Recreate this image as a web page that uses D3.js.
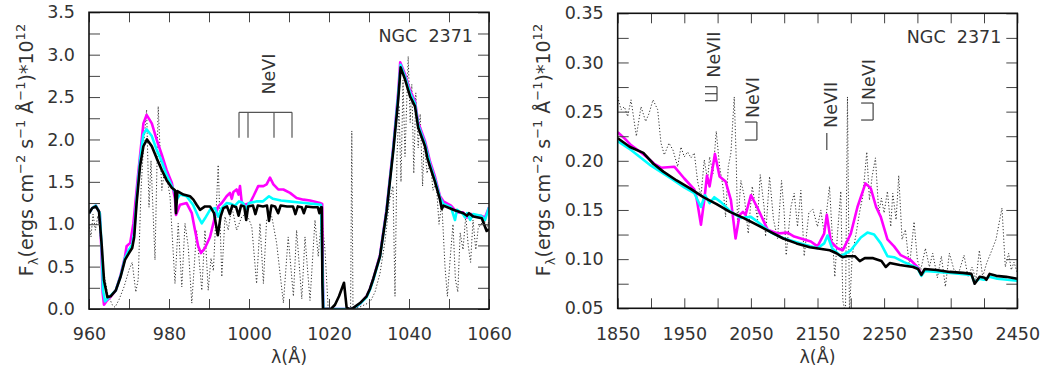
<!DOCTYPE html>
<html><head><meta charset="utf-8">
<script src="https://cdn.jsdelivr.net/npm/d3@7"></script>
<style>body{margin:0;background:#fff}svg{display:block}text{font-family:"DejaVu Sans",sans-serif}</style>
</head><body>
<svg id="chart" width="1045" height="379"></svg>
<script>
// ---------------- DATA: far-UV panel (Å, flux*1e12) ----------------
const fuvObserved = [[960,1.0],[960.5,0.85],[961,1.12],[961.6,0.93],[962.2,1.1],[962.6,1.0],[963.3,0.54],[964.6,0.19],[965.8,0.05],[966.5,0.02],[967.5,0.11],[968.75,0.26],[970,0.46],[970.8,0.55],[971.7,0.2],[972.3,0.35],[973,1.4],[973.6,1.9],[974.4,2.35],[975,1.2],[975.5,1.75],[976.5,0.58],[977.3,2.39],[978.2,1.4],[979,1.68],[980.25,1.33],[981.5,0.3],[982.3,1.01],[983.2,0.26],[984,1.01],[984.8,0.74],[985.7,0.07],[986.9,0.93],[988.2,0.22],[989,0.93],[989.8,0.22],[990.5,0.6],[991.1,0.45],[992.3,1.7],[993.2,0.38],[994,1.09],[994.8,0.93],[995.7,1.21],[996.9,0.93],[998.2,1.09],[999.4,1.13],[1000.7,0.97],[1001.9,0.3],[1002.75,1.01],[1003.6,0.3],[1004.4,1.05],[1005.7,1.09],[1006.9,0.78],[1008.6,0.07],[1009.8,0.85],[1011.1,0.15],[1011.9,0.93],[1013.2,0.12],[1014,0.85],[1015.25,0.1],[1016.5,1.05],[1017.3,0.62],[1018.2,1.09],[1019,0.7],[1019.8,0.0],[1025.4,0.0],[1025.7,2.1],[1026,0.0],[1028,0.03],[1030.25,0.08],[1031.5,0.2],[1032.75,0.42],[1034,0.8],[1035.2,1.3],[1036,1.45],[1036.5,0.15],[1037,1.8],[1037.5,2.4],[1038,1.5],[1038.5,2.7],[1039,1.8],[1039.8,2.98],[1040.3,2.2],[1040.7,2.65],[1041.2,1.6],[1041.7,2.55],[1042.3,1.9],[1042.8,2.3],[1043.4,1.45],[1043.8,2.0],[1044.5,1.6],[1045.3,1.75],[1046,1.4],[1046.8,1.5],[1047.5,1.0],[1048.2,1.25],[1049,0.5],[1049.6,0.15],[1050.3,0.6],[1051,1.0],[1051.6,0.35],[1052.2,0.2],[1052.8,0.9],[1053.5,0.7],[1054.2,1.1],[1054.8,0.75],[1055.4,0.55],[1056,1.05],[1056.7,0.7],[1057.3,0.95],[1058,1.0],[1058.8,1.05],[1059.5,0.95],[1060,1.05]];
const fuvModelMagenta = [[960,1.13],[960.8,1.19],[961.7,1.22],[962.7,1.13],[963.1,0.7],[963.4,0.2],[963.75,0.05],[964.5,0.1],[965.5,0.15],[966.7,0.22],[967.9,0.4],[969,0.62],[969.4,0.74],[970.3,0.78],[971.1,1.01],[972.3,1.6],[973.6,2.19],[974.4,2.29],[975.7,2.19],[976.9,2.0],[978.2,1.82],[979.4,1.64],[980.7,1.49],[981.5,1.3],[981.75,1.11],[982.75,1.23],[984.4,1.25],[985.7,1.13],[986.5,0.93],[987.3,0.74],[988,0.66],[989,0.72],[990.25,0.85],[991.5,1.09],[992.3,1.21],[993.2,1.25],[994.4,1.33],[995.25,1.37],[995.7,1.3],[996.1,1.38],[996.9,1.41],[997.4,1.35],[997.75,1.45],[998.2,1.25],[999,1.23],[1000.25,1.25],[1001.1,1.33],[1002.3,1.45],[1003.6,1.45],[1004.4,1.47],[1005.25,1.55],[1006.1,1.47],[1007.3,1.41],[1008.6,1.41],[1010.25,1.37],[1011.9,1.31],[1013.6,1.29],[1015.25,1.28],[1017.75,1.25],[1018.3,1.24],[1018.45,0.4],[1018.6,0.0],[1025.5,0.0],[1026,0.005],[1027.75,0.06],[1029.4,0.15],[1030.25,0.24],[1031.1,0.36],[1032.75,0.64],[1034.4,1.18],[1036.1,1.93],[1037.3,2.56],[1037.8,2.91],[1039,2.77],[1040.25,2.58],[1041.5,2.45],[1042.3,2.2],[1044,1.98],[1045.25,1.74],[1046.5,1.56],[1047.75,1.33],[1048.6,1.27],[1050.5,1.22],[1052,1.14],[1053.5,1.14],[1054.5,1.08],[1055.5,1.12],[1056.5,1.1],[1058,1.1],[1059,1.08],[1060,1.2]];
const fuvModelCyan = [[960,1.13],[960.8,1.19],[961.7,1.22],[962.7,1.13],[963.2,0.7],[963.5,0.22],[964,0.09],[965,0.14],[966.7,0.22],[967.9,0.39],[969,0.6],[970,0.7],[970.8,0.76],[971.3,0.9],[971.9,1.3],[972.75,1.75],[973.6,2.06],[974.4,2.12],[975.7,2.04],[976.9,1.88],[978.2,1.74],[979.4,1.58],[980.7,1.45],[981.5,1.38],[981.75,1.28],[982.75,1.35],[984.4,1.33],[986,1.23],[987.3,1.09],[988.2,1.01],[989,1.07],[990.25,1.17],[991.5,1.19],[992.3,1.09],[993.2,1.19],[994.4,1.25],[995.5,1.24],[996.5,1.22],[997.5,1.27],[998.5,1.25],[999.3,1.18],[1000,1.25],[1002,1.27],[1003.5,1.27],[1005,1.33],[1006,1.3],[1008,1.28],[1010,1.27],[1012,1.26],[1014,1.25],[1016,1.24],[1018,1.23],[1018.4,0.4],[1018.6,0.0],[1025.5,0.0],[1026,0.005],[1027.75,0.06],[1029.4,0.14],[1030.25,0.23],[1031.1,0.35],[1032.75,0.62],[1034.4,1.16],[1036.1,1.9],[1037.3,2.52],[1037.9,2.88],[1039,2.74],[1040.25,2.55],[1041.5,2.42],[1042.3,2.17],[1044,1.95],[1045.25,1.71],[1046.5,1.53],[1047.75,1.31],[1048.6,1.24],[1050.5,1.2],[1051.5,1.05],[1052,1.17],[1053.5,1.12],[1054,1.08],[1054.5,1.13],[1055.3,1.05],[1056,1.12],[1058,1.1],[1059,1.05],[1060,1.2]];
const fuvModelBlack = [[960,1.13],[960.8,1.19],[961.7,1.21],[962.5,1.15],[963.2,0.74],[963.75,0.34],[964.6,0.14],[965.4,0.15],[966.7,0.22],[967.9,0.38],[969,0.58],[970,0.66],[970.8,0.72],[971.3,0.85],[971.9,1.25],[972.75,1.68],[973.6,1.92],[974.5,2.0],[975.7,1.92],[976.9,1.78],[978.2,1.64],[979.4,1.52],[980.7,1.43],[981.5,1.4],[981.75,1.13],[982.1,1.39],[983.6,1.35],[985.25,1.33],[986.1,1.29],[986.9,1.23],[987.75,1.17],[989,1.21],[990.25,1.21],[991.25,1.13],[992.2,0.87],[992.9,1.09],[993.6,1.19],[994.5,1.21],[995.2,1.12],[995.8,1.22],[996.8,1.2],[997.4,1.1],[998,1.22],[998.8,1.21],[999.3,1.05],[999.8,1.21],[1001,1.22],[1001.6,1.12],[1002.2,1.22],[1003.5,1.21],[1004.5,1.22],[1005,1.04],[1005.6,1.22],[1006.5,1.21],[1007.3,1.13],[1007.9,1.22],[1009.5,1.21],[1011,1.21],[1011.6,1.12],[1012.2,1.21],[1013.2,1.2],[1013.7,1.13],[1014.3,1.21],[1016,1.2],[1017.2,1.2],[1017.6,1.13],[1018,1.2],[1018.2,1.2],[1018.35,0.3],[1018.5,0.0],[1020.5,0.0],[1021.5,0.05],[1022.5,0.15],[1023.75,0.31],[1024.4,0.02],[1025,0.0],[1026,0.01],[1027.75,0.07],[1029.4,0.15],[1030.25,0.24],[1031.1,0.36],[1032.75,0.62],[1034.4,1.15],[1036.1,1.88],[1037.3,2.47],[1037.9,2.85],[1039,2.71],[1040.25,2.51],[1041.5,2.39],[1042.3,2.14],[1044,1.92],[1044.6,1.78],[1045.25,1.68],[1046.5,1.5],[1047.75,1.29],[1048.2,1.18],[1048.6,1.22],[1051.1,1.17],[1053.6,1.13],[1054.5,1.1],[1055,1.13],[1056.1,1.09],[1058.2,1.07],[1059.4,0.92],[1060,0.94]];
const fuvXTickLabels = [960, 980, 1000, 1020, 1040, 1060];
const fuvYTickLabels = [0.0, 0.5, 1.0, 1.5, 2.0, 2.5, 3.0, 3.5];
const fuvLineIds = [{label: "NeVI", wave: 1006.5, flux: 2.53, marks: [997.5, 999.75, 1006.25, 1010.75], top: 2.32, bottom: 2.02}];

// ---------------- DATA: near-UV panel ----------------
const nuvObserved = [[1850,0.265],[1855,0.252],[1860,0.255],[1865,0.245],[1870,0.262],[1878,0.225],[1885,0.255],[1892,0.24],[1897,0.248],[1903,0.262],[1910,0.252],[1915,0.218],[1920,0.206],[1927,0.218],[1933,0.211],[1940,0.194],[1945,0.214],[1950,0.204],[1955,0.209],[1960,0.203],[1965,0.208],[1970,0.179],[1975,0.164],[1980,0.201],[1985,0.18],[1988,0.204],[1993,0.187],[1998,0.23],[2003,0.194],[2008,0.174],[2012,0.143],[2016,0.194],[2020,0.208],[2025,0.265],[2028,0.201],[2030,0.133],[2035,0.18],[2040,0.164],[2046,0.126],[2052,0.174],[2060,0.14],[2064,0.186],[2070,0.152],[2072,0.123],[2078,0.184],[2084,0.14],[2090,0.121],[2096,0.18],[2100,0.147],[2103,0.104],[2110,0.153],[2115,0.167],[2120,0.133],[2125,0.17],[2130,0.103],[2137,0.147],[2143,0.151],[2150,0.133],[2155,0.15],[2160,0.126],[2168,0.174],[2172,0.126],[2176,0.082],[2180,0.126],[2185,0.169],[2188,0.058],[2192,0.045],[2195,0.265],[2198,0.045],[2202,0.103],[2208,0.126],[2213,0.147],[2218,0.164],[2224,0.209],[2228,0.16],[2232,0.184],[2237,0.203],[2242,0.147],[2246,0.162],[2250,0.147],[2255,0.169],[2260,0.133],[2263,0.167],[2268,0.14],[2272,0.185],[2277,0.12],[2282,0.13],[2288,0.092],[2295,0.138],[2300,0.099],[2305,0.089],[2312,0.111],[2318,0.092],[2323,0.106],[2330,0.081],[2336,0.103],[2342,0.072],[2348,0.106],[2355,0.089],[2362,0.086],[2370,0.104],[2376,0.082],[2382,0.092],[2388,0.079],[2393,0.109],[2398,0.082],[2404,0.096],[2410,0.106],[2418,0.12],[2427,0.152],[2432,0.092],[2437,0.106],[2441,0.089],[2445,0.097],[2450,0.086]];
const nuvModelMagenta = [[1850,0.229],[1860,0.223],[1870,0.216],[1880,0.211],[1895,0.203],[1905,0.197],[1915,0.193],[1935,0.194],[1950,0.182],[1965,0.171],[1968,0.164],[1975,0.135],[1980,0.16],[1984,0.185],[1988,0.174],[1996,0.207],[2003,0.184],[2012,0.179],[2020,0.16],[2027,0.121],[2033,0.145],[2038,0.148],[2042,0.145],[2050,0.165],[2060,0.152],[2075,0.13],[2090,0.126],[2105,0.127],[2115,0.123],[2140,0.118],[2150,0.113],[2160,0.126],[2164,0.145],[2170,0.118],[2180,0.111],[2188,0.109],[2200,0.126],[2210,0.153],[2222,0.177],[2230,0.172],[2238,0.153],[2245,0.143],[2255,0.12],[2265,0.113],[2275,0.104],[2290,0.099],[2300,0.092],[2306,0.085]];
const nuvModelCyan = [[1850,0.22],[1870,0.211],[1900,0.195],[1930,0.182],[1950,0.173],[1965,0.167],[1975,0.153],[1981,0.165],[1988,0.157],[1995,0.163],[2005,0.158],[2020,0.148],[2035,0.142],[2050,0.143],[2060,0.138],[2080,0.127],[2100,0.121],[2125,0.116],[2150,0.111],[2160,0.116],[2165,0.124],[2172,0.111],[2185,0.103],[2200,0.109],[2215,0.122],[2225,0.127],[2235,0.125],[2245,0.116],[2255,0.103],[2265,0.102],[2280,0.097],[2300,0.091],[2306,0.083],[2311,0.088],[2350,0.086],[2381,0.084],[2386,0.076],[2393,0.08],[2400,0.079],[2408,0.082],[2420,0.08],[2450,0.078]];
const nuvModelBlack = [[1850,0.223],[1868.5,0.214],[1888.5,0.208],[1903.5,0.197],[1918.5,0.189],[1938.5,0.18],[1958.5,0.172],[1978.5,0.163],[1998.5,0.156],[2018.5,0.148],[2038.5,0.142],[2058.5,0.135],[2078.5,0.128],[2098.5,0.121],[2118.5,0.116],[2138.5,0.112],[2158.5,0.11],[2168.5,0.109],[2178.5,0.106],[2187.5,0.102],[2193.5,0.103],[2206,0.103],[2213.5,0.098],[2221,0.101],[2233.5,0.101],[2246,0.098],[2252.5,0.092],[2258.5,0.096],[2273.5,0.094],[2293.5,0.092],[2301,0.09],[2306,0.084],[2311,0.09],[2328.5,0.089],[2348.5,0.087],[2368.5,0.086],[2381,0.085],[2386,0.075],[2393.5,0.082],[2401,0.081],[2403.5,0.079],[2408.5,0.085],[2418.5,0.083],[2433.5,0.082],[2450,0.08]];
const nuvXTickLabels = [1850, 1950, 2050, 2150, 2250, 2350, 2450];
const nuvYTickLabels = [0.05, 0.10, 0.15, 0.20, 0.25, 0.30, 0.35];
const nuvLineIds = [
  {label: "NeVII", wave: 2003.6, flux: 0.2845, mark: "bracket3"},
  {label: "NeVI",  wave: 2062,   flux: 0.2435, mark: "bracket2"},
  {label: "NeVII", wave: 2179,   flux: 0.2334, mark: "dash"},
  {label: "NeVI",  wave: 2236.5, flux: 0.2618, mark: "bracket2b"}
];
const objectName = "NGC\u00a0\u00a02371";

// ---------------- DRAWING ----------------
const svg = d3.select("#chart");
const FS = 17.5;
const TXT = "#333";

function drawPanel(cfg) {
  const x = d3.scaleLinear().domain(cfg.xDomain).range([cfg.left, cfg.right]);
  const y = d3.scaleLinear().domain(cfg.yDomain).range([cfg.bottom, cfg.top]);
  const g = svg.append("g");
  const clipId = cfg.id + "-clip";
  svg.append("clipPath").attr("id", clipId).append("rect")
    .attr("x", cfg.left).attr("y", cfg.top)
    .attr("width", cfg.right - cfg.left).attr("height", cfg.bottom - cfg.top);

  const line = d3.line().x(d => x(d[0])).y(d => y(d[1]));
  const plot = g.append("g").attr("clip-path", `url(#${clipId})`);
  plot.append("path").datum(cfg.observed).attr("d", line)
    .attr("fill", "none").attr("stroke", "#333").attr("stroke-width", 1)
    .attr("stroke-dasharray", "1.2,2");
  [[cfg.magenta, "#ff00ff"], [cfg.cyan, "#00ffff"], [cfg.black, "#000"]].forEach(([data, col]) => {
    plot.append("path").datum(data).attr("d", line)
      .attr("fill", "none").attr("stroke", col).attr("stroke-width", 2.6)
      .attr("stroke-linejoin", "round");
  });

  const key = v => Math.round(v * 10000);
  const xLab = new Set(cfg.xLabels.map(key));
  const yLab = new Set(cfg.yLabels.map(key));
  const xT = d3.range(cfg.xDomain[0], cfg.xDomain[1] + cfg.xStep / 2, cfg.xStep);
  const yT = d3.range(cfg.yDomain[0], cfg.yDomain[1] + cfg.yStep / 2, cfg.yStep);
  const yFmt = d3.format(cfg.yFmt);

  const styleAxis = sel => {
    sel.select(".domain").remove();
    sel.selectAll(".tick line").attr("stroke", "#444").attr("stroke-width", 1);
    sel.selectAll(".tick text").attr("fill", TXT).attr("font-size", FS)
      .attr("font-family", '"DejaVu Sans", sans-serif');
    sel.attr("font-size", FS).attr("font-family", '"DejaVu Sans", sans-serif');
  };
  g.append("g").attr("transform", `translate(0,${cfg.bottom})`)
    .call(d3.axisBottom(x).tickValues(xT).tickSizeInner(-10).tickSizeOuter(0).tickPadding(19)
      .tickFormat(d => xLab.has(key(d)) ? String(Math.round(d)) : ""))
    .call(styleAxis);
  g.append("g").attr("transform", `translate(0,${cfg.top})`)
    .call(d3.axisTop(x).tickValues(xT).tickSizeInner(-10).tickSizeOuter(0).tickFormat(""))
    .call(styleAxis);
  g.append("g").attr("transform", `translate(${cfg.left},0)`)
    .call(d3.axisLeft(y).tickValues(yT).tickSizeInner(-11).tickSizeOuter(0).tickPadding(14)
      .tickFormat(d => yLab.has(key(d)) ? yFmt(d) : ""))
    .call(styleAxis);
  g.append("g").attr("transform", `translate(${cfg.right},0)`)
    .call(d3.axisRight(y).tickValues(yT).tickSizeInner(-11).tickSizeOuter(0).tickFormat(""))
    .call(styleAxis);

  g.append("rect").attr("x", cfg.left).attr("y", cfg.top)
    .attr("width", cfg.right - cfg.left).attr("height", cfg.bottom - cfg.top)
    .attr("fill", "none").attr("stroke", "#111").attr("stroke-width", 1.6);

  const cx = (cfg.left + cfg.right) / 2;
  g.append("text").attr("x", cx).attr("y", 363).attr("text-anchor", "middle")
    .attr("font-size", FS).attr("fill", TXT).text("λ(Å)");

  const yt = g.append("text")
    .attr("transform", `translate(${cfg.left - cfg.titleOffset},150) rotate(-90)`)
    .attr("text-anchor", "middle").attr("font-size", 19).attr("fill", TXT);
  const parts = [["F", 0, 19], ["λ", 5, 13], ["(ergs cm", -5, 19], ["−2", -8, 13], [" s", 8, 19],
    ["−1", -8, 13], [" Å", 8, 19], ["−1", -8, 13], [")*10", 8, 19], ["12", -8, 13]];
  parts.forEach(([t, dy, fs]) => yt.append("tspan").attr("dy", dy).attr("font-size", fs).text(t));

  g.append("text").attr("x", cfg.right - 16).attr("y", cfg.top + 29.5)
    .attr("text-anchor", "end").attr("font-size", FS).attr("fill", TXT).text(objectName);

  return {g, x, y};
}

// Left panel
const L = drawPanel({
  id: "fuv", left: 89, right: 489, top: 12.3, bottom: 309, titleOffset: 56,
  xDomain: [960, 1060], yDomain: [0, 3.5], xStep: 10, yStep: 0.25,
  xLabels: fuvXTickLabels, yLabels: fuvYTickLabels, yFmt: ".1f",
  observed: fuvObserved, magenta: fuvModelMagenta, cyan: fuvModelCyan, black: fuvModelBlack
});
fuvLineIds.forEach(a => {
  const gg = L.g.append("g").attr("stroke", "#555").attr("stroke-width", 1.2).attr("fill", "none");
  gg.append("line").attr("x1", L.x(d3.min(a.marks))).attr("x2", L.x(d3.max(a.marks)))
    .attr("y1", L.y(a.top)).attr("y2", L.y(a.top));
  a.marks.forEach(m => gg.append("line").attr("x1", L.x(m)).attr("x2", L.x(m))
    .attr("y1", L.y(a.top)).attr("y2", L.y(a.bottom)));
  L.g.append("text").attr("transform", `translate(${L.x(a.wave)},${L.y(a.flux)}) rotate(-90)`)
    .attr("font-size", FS).attr("fill", TXT).text(a.label);
});

// Right panel
const R = drawPanel({
  id: "nuv", left: 617.7, right: 1017.3, top: 13.3, bottom: 308.3, titleOffset: 68,
  xDomain: [1850, 2450], yDomain: [0.05, 0.35], xStep: 50, yStep: 0.025,
  xLabels: nuvXTickLabels, yLabels: nuvYTickLabels, yFmt: ".2f",
  observed: nuvObserved, magenta: nuvModelMagenta, cyan: nuvModelCyan, black: nuvModelBlack
});
const markShapes = {
  bracket3: {bar: [-3, 9, 23], ticks: [9, 16, 23], len: 12},
  bracket2: {bar: [-2, 4, 22], ticks: [4, 22], len: 12},
  bracket2b: {bar: [-2, 3, 20], ticks: [3, 20], len: 12},
  dash: {bar: [-10, 5, 22], ticks: [], len: 0}
};
nuvLineIds.forEach(a => {
  const px = R.x(a.wave), py = R.y(a.flux);
  R.g.append("text").attr("transform", `translate(${px},${py}) rotate(-90)`)
    .attr("font-size", FS).attr("fill", TXT).text(a.label);
  const s = markShapes[a.mark];
  const gg = R.g.append("g").attr("stroke", "#444").attr("stroke-width", 1.2);
  gg.append("line").attr("x1", px + s.bar[0]).attr("x2", px + s.bar[0])
    .attr("y1", py + s.bar[1]).attr("y2", py + s.bar[2]);
  s.ticks.forEach(t => gg.append("line").attr("x1", px + s.bar[0] - s.len).attr("x2", px + s.bar[0])
    .attr("y1", py + t).attr("y2", py + t));
});
</script>
</body></html>
